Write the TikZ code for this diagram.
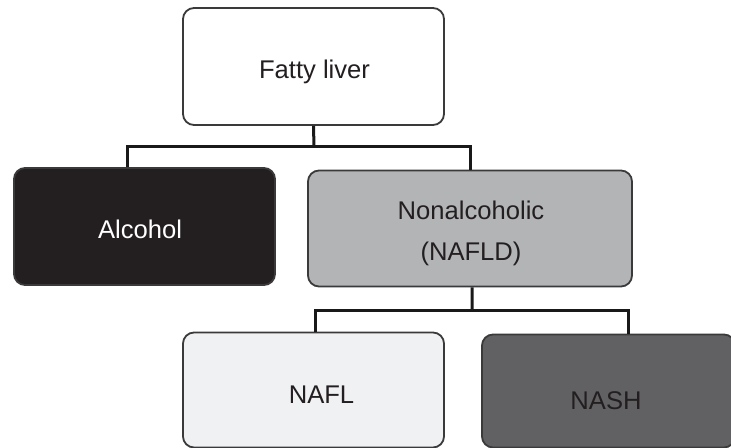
\documentclass[tikz,border=0pt]{standalone}
\usepackage{fontspec}
\setmainfont{Liberation Sans}
\definecolor{boxline}{HTML}{3A3A3A}
\definecolor{alcfill}{HTML}{231F20}
\definecolor{nafldfill}{HTML}{B3B4B6}
\definecolor{naflfill}{HTML}{F0F1F3}
\definecolor{nashfill}{HTML}{616163}
\definecolor{inktext}{HTML}{231F20}
\begin{document}
\begin{tikzpicture}[x=1bp,y=-1bp,
  box/.style={draw=boxline, line width=1.8bp, rounded corners=11bp,
    minimum width=261bp, minimum height=117bp, inner sep=0pt},
  txt/.style={anchor=base, inner sep=0pt, text=inktext,
    font=\fontsize{25.6bp}{30bp}\selectfont},
  conn/.style={draw=black!90, line width=3bp}]
  \useasboundingbox (0,0) rectangle (731,448);

  % boxes
  \node[box, fill=white] (fatty) at (313.5,66.5) {};
  \node[box, fill=alcfill] (alcohol) at (144.5,226.5) {};
  \node[box, fill=nafldfill, minimum width=324bp, minimum height=116bp]
    (nafld) at (470,228.5) {};
  \node[box, fill=naflfill, minimum height=115bp] (nafl) at (313.5,390) {};
  \node[box, fill=nashfill, minimum width=253bp, minimum height=113bp]
    (nash) at (608.5,391) {};

  % labels (placed on their baselines)
  \node[txt] (fatty-t) at (314.5,79) {Fatty liver};
  \node[txt, text=white] (alcohol-t) at (140,239) {Alcohol};
  \node[txt] (nafld-t1) at (471,220) {Nonalcoholic};
  \node[txt] (nafld-t2) at (471,261) {(NAFLD)};
  \node[txt] (nafl-t) at (321.5,403.5) {NAFL};
  \node[txt] (nash-t) at (606,409) {NASH};

  % junction points of the tree
  \coordinate (j1) at (314,147);
  \coordinate (j2) at (472,311);

  % connectors
  \draw[conn] (fatty.south) -- (j1);
  \draw[conn] ([xshift=-17.5bp]alcohol.north) |- (j1) -| (nafld.north);
  \draw[conn] ([xshift=2bp]nafld.south) -- (j2);
  \draw[conn] ([xshift=1.5bp]nafl.north) |- (j2) -| ([xshift=19.5bp]nash.north);
\end{tikzpicture}
\end{document}
